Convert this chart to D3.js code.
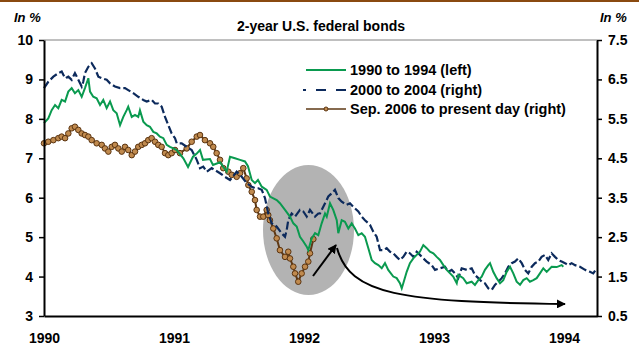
<!DOCTYPE html>
<html>
<head>
<meta charset="utf-8">
<script src="https://cdn.jsdelivr.net/npm/d3@7"></script>
<style>
  html, body { margin: 0; padding: 0; background: #fff; }
  svg { display: block; font-family: Arial, "Liberation Sans", sans-serif; }
</style>
</head>
<body>
<svg id="chart" width="639" height="345"></svg>
<script>
// Axis ticks and labels
const yearLabels = ["1990", "1991", "1992", "1993", "1994"];
const leftTicks = [3, 4, 5, 6, 7, 8, 9, 10];
const rightTicks = [0.5, 1.5, 2.5, 3.5, 4.5, 5.5, 6.5, 7.5];
const legendLabels = ["1990 to 1994 (left)", "2000 to 2004 (right)", "Sep. 2006 to present day (right)"];

// 1990 to 1994: years elapsed since series start, yield in % (left axis)
const greenYears = [0.000,0.033,0.059,0.085,0.110,0.136,0.162,0.187,0.213,0.238,0.264,0.290,0.315,0.341,0.354,0.379,0.405,0.431,0.456,0.482,0.508,0.533,0.559,0.585,0.610,0.636,0.648,0.675,0.700,0.725,0.738,0.764,0.790,0.815,0.841,0.867,0.892,0.918,0.944,0.969,0.995,1.021,1.072,1.108,1.146,1.175,1.200,1.223,1.277,1.300,1.354,1.405,1.431,1.469,1.508,1.546,1.569,1.598,1.623,1.646,1.675,1.713,1.738,1.790,1.815,1.854,1.892,1.918,1.944,1.969,1.995,2.021,2.033,2.059,2.085,2.110,2.136,2.162,2.175,2.200,2.225,2.252,2.264,2.290,2.315,2.341,2.367,2.392,2.418,2.444,2.469,2.495,2.521,2.546,2.572,2.598,2.623,2.648,2.687,2.713,2.738,2.752,2.764,2.790,2.815,2.841,2.867,2.892,2.918,2.944,2.969,2.995,3.021,3.046,3.072,3.098,3.148,3.175,3.187,3.225,3.252,3.290,3.315,3.341,3.367,3.392,3.418,3.431,3.456,3.482,3.508,3.533,3.559,3.585,3.610,3.636,3.662,3.687,3.713,3.738,3.764,3.790,3.815,3.841,3.867,3.905,3.944,3.982,3.995];
const greenYield = [7.89,8.01,8.22,8.35,8.27,8.48,8.44,8.69,8.78,8.65,8.73,8.56,8.78,9.03,8.69,8.56,8.52,8.35,8.48,8.27,8.44,8.22,8.14,7.84,8.05,8.22,8.31,8.05,8.10,8.05,8.22,7.93,7.84,7.80,7.67,7.63,7.55,7.51,7.34,7.29,7.25,7.21,7.00,6.78,7.04,7.12,7.21,6.96,6.98,6.83,6.90,6.66,7.04,7.00,6.96,6.92,6.80,6.45,6.37,6.45,6.28,6.20,6.03,5.94,5.86,5.69,5.52,5.35,5.27,5.01,4.89,4.76,4.67,4.97,5.10,5.05,5.35,5.60,5.52,5.86,5.69,5.43,5.10,5.43,5.39,5.22,5.35,5.22,5.05,5.10,5.01,4.72,4.42,4.34,4.29,4.21,4.34,4.17,4.00,3.96,3.83,3.70,3.83,4.12,4.34,4.46,4.55,4.63,4.80,4.72,4.63,4.59,4.50,4.42,4.29,4.17,4.00,3.83,4.04,3.96,3.83,3.87,3.79,3.91,4.00,4.17,4.29,4.34,4.12,3.96,3.83,3.91,4.12,4.25,4.08,3.87,3.79,3.91,3.96,3.87,3.91,3.96,4.08,4.21,4.12,4.25,4.24,4.29,4.25];

// 2000 to 2004: years elapsed since series start, yield in % (right axis)
const blueYears = [0.000,0.033,0.072,0.110,0.136,0.162,0.187,0.213,0.238,0.264,0.290,0.302,0.315,0.341,0.367,0.392,0.418,0.444,0.482,0.508,0.546,0.585,0.623,0.648,0.687,0.725,0.764,0.790,0.828,0.854,0.879,0.905,0.931,0.956,0.982,1.008,1.021,1.059,1.098,1.136,1.175,1.200,1.225,1.252,1.290,1.315,1.354,1.392,1.431,1.482,1.521,1.559,1.598,1.623,1.648,1.675,1.700,1.725,1.752,1.790,1.828,1.854,1.867,1.879,1.905,1.931,1.969,1.995,2.021,2.046,2.085,2.110,2.123,2.162,2.187,2.213,2.238,2.264,2.290,2.328,2.354,2.379,2.418,2.444,2.469,2.508,2.533,2.559,2.585,2.610,2.636,2.662,2.687,2.713,2.738,2.764,2.790,2.815,2.841,2.867,2.892,2.918,2.944,2.982,3.008,3.046,3.085,3.110,3.136,3.162,3.187,3.213,3.252,3.290,3.315,3.341,3.367,3.392,3.418,3.444,3.469,3.495,3.521,3.546,3.572,3.598,3.623,3.648,3.675,3.700,3.725,3.752,3.777,3.802,3.828,3.854,3.879,3.905,3.931,3.956,3.982,4.008,4.033,4.059,4.085,4.123,4.162,4.200,4.225,4.252];
const blueYield = [6.28,6.44,6.57,6.66,6.70,6.53,6.57,6.49,6.66,6.49,6.32,6.44,6.66,6.82,6.91,6.78,6.57,6.53,6.49,6.40,6.32,6.28,6.28,6.23,6.15,6.06,5.98,5.94,5.98,5.89,5.89,5.81,5.55,5.34,5.13,5.01,4.88,4.88,4.79,4.71,4.46,4.25,4.29,4.16,4.25,4.20,4.12,4.03,3.95,4.16,4.03,3.87,3.78,3.74,3.74,3.70,3.49,3.10,2.85,2.77,2.60,2.51,2.68,2.93,3.10,3.02,3.19,3.15,3.02,3.19,3.02,3.10,3.10,3.36,3.53,3.61,3.70,3.49,3.40,3.32,3.36,3.27,3.15,3.02,2.93,2.81,2.64,2.51,2.17,2.17,2.22,2.13,2.09,2.00,1.92,2.00,2.13,2.09,2.00,2.13,2.05,1.96,1.88,1.79,1.67,1.71,1.75,1.62,1.67,1.58,1.46,1.71,1.67,1.71,1.54,1.46,1.37,1.33,1.20,1.16,1.29,1.37,1.46,1.58,1.75,1.84,1.88,1.96,1.84,1.67,1.58,1.75,1.84,1.88,2.00,2.05,1.92,2.09,2.00,1.92,1.88,1.84,1.79,1.84,1.79,1.75,1.67,1.62,1.58,1.71];

// Sep. 2006 onwards: years elapsed on the chart's time axis, yield in % (right axis)
const brownYears = [0.000,0.033,0.072,0.110,0.136,0.162,0.187,0.213,0.238,0.264,0.290,0.315,0.341,0.367,0.405,0.444,0.469,0.495,0.521,0.546,0.572,0.598,0.623,0.648,0.675,0.700,0.725,0.752,0.777,0.802,0.828,0.854,0.879,0.905,0.931,0.956,0.982,1.008,1.046,1.098,1.136,1.175,1.200,1.238,1.277,1.302,1.328,1.354,1.379,1.418,1.444,1.482,1.508,1.533,1.559,1.572,1.598,1.623,1.636,1.662,1.687,1.713,1.725,1.738,1.764,1.790,1.815,1.854,1.879,1.892,1.918,1.931,1.956,1.982,2.008,2.033,2.046,2.072];
const brownYield = [4.88,4.92,4.96,5.01,5.05,5.01,5.13,5.26,5.30,5.22,5.13,5.09,5.05,4.96,4.88,4.84,4.75,4.67,4.79,4.84,4.75,4.67,4.79,4.71,4.58,4.67,4.79,4.84,4.88,4.96,5.01,4.92,4.84,4.79,4.63,4.58,4.63,4.71,4.63,4.75,4.92,5.05,5.09,4.96,4.88,4.79,4.63,4.46,4.25,4.16,4.08,4.03,4.12,4.25,3.99,3.82,3.65,3.44,3.19,3.02,3.02,3.19,3.06,2.93,2.72,2.47,2.17,2.00,2.13,1.96,1.75,1.58,1.37,1.58,1.75,1.88,2.09,2.45];

const colors = { green: "#0a9a4f", blue: "#0c2a5c", brownLine: "#5e3814", brownFill: "#c08a4e", brownStroke: "#5a3411" };

const svg = d3.select("#chart");
const W = 639, H = 345;
const plot = { left: 44, right: 597, top: 40, bottom: 316 };

const x = d3.scaleLinear().domain([0, 4.254]).range([plot.left, plot.right]);
const yL = d3.scaleLinear().domain([3, 10]).range([plot.bottom, plot.top]);
const yR = d3.scaleLinear().domain([0.5, 7.5]).range([plot.bottom, plot.top]);

// Top brown rule
svg.append("rect").attr("x", 0).attr("y", 0).attr("width", W).attr("height", 2).attr("fill", "#8a4a10");

// Highlight ellipse behind the lines
svg.append("ellipse")
  .attr("cx", 308.5).attr("cy", 230).attr("rx", 45.5).attr("ry", 65)
  .attr("fill", "#b3b3b3");

// Plot frame top
svg.append("line")
  .attr("x1", plot.left).attr("x2", plot.right)
  .attr("y1", plot.top).attr("y2", plot.top)
  .attr("stroke", "#808080").attr("stroke-width", 1);

const zip = (xs, ys) => xs.map((t, i) => [t, ys[i]]);

// Series lines
const lineL = d3.line().x(d => x(d[0])).y(d => yL(d[1]));
const lineR = d3.line().x(d => x(d[0])).y(d => yR(d[1]));

const brownData = zip(brownYears, brownYield);
svg.append("path").datum(brownData)
  .attr("d", lineR).attr("fill", "none")
  .attr("stroke", colors.brownLine).attr("stroke-width", 2);
svg.append("g").selectAll("circle").data(brownData).join("circle")
  .attr("cx", d => x(d[0])).attr("cy", d => yR(d[1])).attr("r", 2.8)
  .attr("fill", colors.brownFill).attr("stroke", colors.brownStroke).attr("stroke-width", 1);

svg.append("path").datum(zip(blueYears, blueYield))
  .attr("d", lineR).attr("fill", "none")
  .attr("stroke", colors.blue).attr("stroke-width", 2.2)
  .attr("stroke-dasharray", "8,3");

svg.append("path").datum(zip(greenYears, greenYield))
  .attr("d", lineL).attr("fill", "none")
  .attr("stroke", colors.green).attr("stroke-width", 2);

// Arrows
const defs = svg.append("defs");
defs.append("marker")
  .attr("id", "head").attr("viewBox", "0 0 10 10")
  .attr("refX", 9).attr("refY", 5)
  .attr("markerWidth", 4.5).attr("markerHeight", 4.5)
  .attr("markerUnits", "strokeWidth")
  .attr("orient", "auto")
  .append("path").attr("d", "M0,0 L10,5 L0,10 Z").attr("fill", "#000");

svg.append("path")
  .attr("d", "M313,276 L336,245")
  .attr("stroke", "#000").attr("stroke-width", 2).attr("fill", "none")
  .attr("marker-end", "url(#head)");
svg.append("path")
  .attr("d", "M337,248 C350,295 400,302 565,304")
  .attr("stroke", "#000").attr("stroke-width", 2).attr("fill", "none")
  .attr("marker-end", "url(#head)");

// Axes
const styleAxis = size => g => {
  g.selectAll("text").attr("font-size", size).attr("font-weight", "bold").attr("fill", "#000")
    .attr("font-family", "Arial, 'Liberation Sans', sans-serif");
  g.selectAll("line").attr("stroke", "#000").attr("stroke-width", 1.5);
  g.select(".domain").attr("stroke", "#000").attr("stroke-width", 2);
};

svg.append("g").attr("transform", `translate(${plot.left},0)`)
  .call(d3.axisLeft(yL).tickValues(leftTicks).tickSize(5).tickPadding(6).tickSizeOuter(0).tickFormat(d3.format("d")))
  .call(styleAxis("14px"));

svg.append("g").attr("transform", `translate(${plot.right},0)`)
  .call(d3.axisRight(yR).tickValues(rightTicks).tickSize(5).tickPadding(6).tickSizeOuter(0).tickFormat(d3.format(".1f")))
  .call(styleAxis("14px"));

svg.append("g").attr("transform", `translate(0,${plot.bottom})`)
  .call(d3.axisBottom(x).tickValues(d3.range(yearLabels.length)).tickSize(0).tickPadding(17).tickSizeOuter(0)
    .tickFormat((d, i) => yearLabels[i]))
  .call(styleAxis("14px"));

// Titles and unit labels
svg.append("text").attr("x", 321).attr("y", 31).attr("text-anchor", "middle")
  .attr("font-size", "14px").attr("font-weight", "bold").text("2-year U.S. federal bonds");
svg.append("text").attr("x", 14).attr("y", 22)
  .attr("font-size", "13px").attr("font-weight", "bold").attr("font-style", "italic").text("In %");
svg.append("text").attr("x", 600).attr("y", 22)
  .attr("font-size", "13px").attr("font-weight", "bold").attr("font-style", "italic").text("In %");

// Legend
const legend = svg.append("g");
const rows = [70, 90, 109];
legend.append("line").attr("x1", 306).attr("x2", 346).attr("y1", rows[0]).attr("y2", rows[0])
  .attr("stroke", colors.green).attr("stroke-width", 2);
legend.append("line").attr("x1", 303).attr("x2", 346).attr("y1", rows[1]).attr("y2", rows[1])
  .attr("stroke", colors.blue).attr("stroke-width", 2).attr("stroke-dasharray", "10,10").attr("stroke-dashoffset", 7);
legend.append("line").attr("x1", 306).attr("x2", 346).attr("y1", rows[2]).attr("y2", rows[2])
  .attr("stroke", colors.brownLine).attr("stroke-width", 1.5);
legend.append("circle").attr("cx", 326).attr("cy", rows[2]).attr("r", 2)
  .attr("fill", colors.brownFill).attr("stroke", colors.brownStroke).attr("stroke-width", 1);
legend.selectAll("text.lbl").data(legendLabels).join("text")
  .attr("class", "lbl")
  .attr("x", 350).attr("y", (d, i) => rows[i] + 5)
  .attr("font-size", "14.5px").attr("font-weight", "bold").text(d => d);
</script>
</body>
</html>
